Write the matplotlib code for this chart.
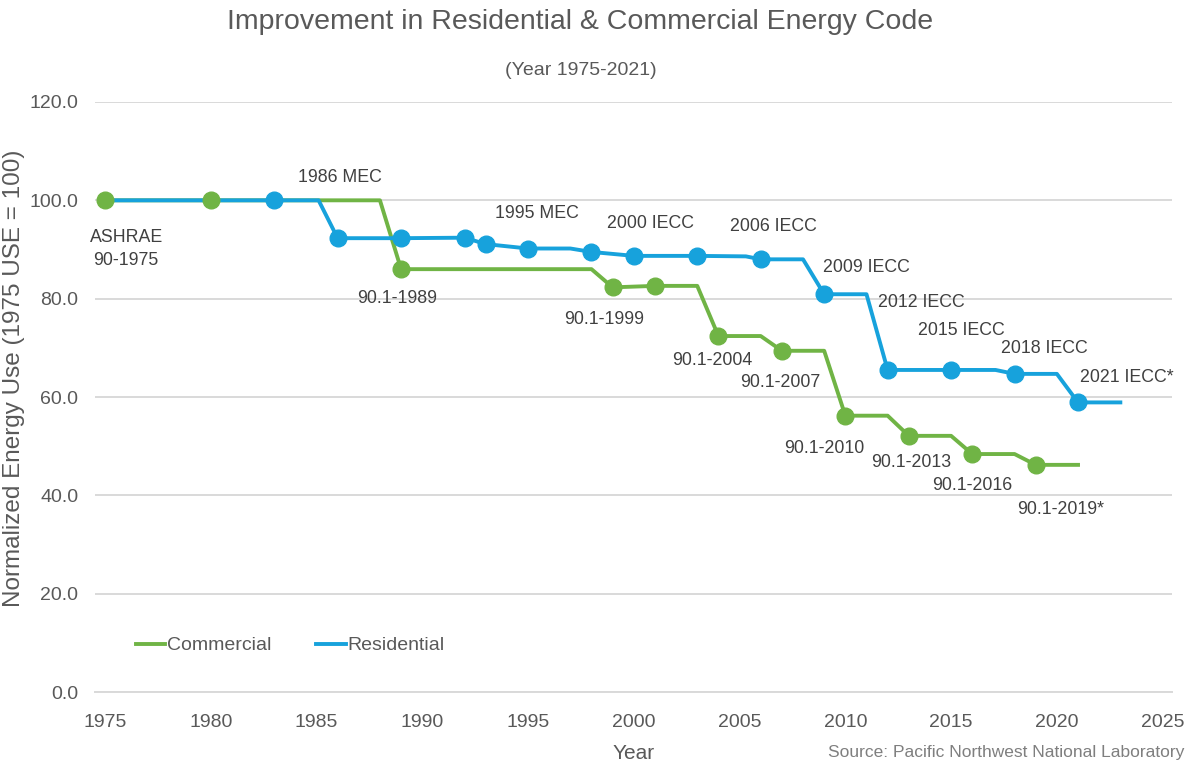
import matplotlib.pyplot as plt
import numpy as np

plt.rcParams['font.family'] = ['Liberation Sans', 'DejaVu Sans']

# line vertices (year, normalized energy use)
res_years = [1975, 1983, 1985.1, 1986, 1989, 1992, 1993, 1995, 1997, 1998, 2000, 2003,
             2005.3, 2006, 2008, 2009, 2011, 2012, 2015, 2017.1, 2018, 2020, 2021, 2023]
res_values = [100, 100, 100, 92.3, 92.3, 92.4, 91.1, 90.2, 90.2, 89.5, 88.7, 88.7,
              88.6, 88.0, 88.0, 80.9, 80.9, 65.5, 65.5, 65.5, 64.7, 64.7, 58.9, 58.9]
res_marker_years = [1983, 1986, 1989, 1992, 1993, 1995, 1998, 2000, 2003, 2006, 2009,
                    2012, 2015, 2018, 2021]

com_years = [1975, 1980, 1988, 1989, 1998, 1999, 2001, 2003, 2004, 2006, 2007, 2009,
             2010, 2012, 2013, 2015, 2016, 2018, 2019, 2021]
com_values = [100, 100, 100, 86.0, 86.0, 82.3, 82.6, 82.6, 72.4, 72.4, 69.4, 69.4,
              56.2, 56.2, 52.1, 52.1, 48.4, 48.4, 46.2, 46.2]
com_marker_years = [1975, 1980, 1989, 1999, 2001, 2004, 2007, 2010, 2013, 2016, 2019]

# code labels and where they sit (data coords)
code_labels = ['ASHRAE\n90-1975', '1986 MEC', '90.1-1989', '1995 MEC', '90.1-1999',
               '2000 IECC', '2006 IECC', '90.1-2004', '90.1-2007', '2009 IECC',
               '2012 IECC', '2015 IECC', '2018 IECC', '2021 IECC*', '90.1-2010',
               '90.1-2013', '90.1-2016', '90.1-2019*']
label_x = [1976.0, 1986.1, 1988.8, 1995.4, 1998.6, 2000.8, 2006.6, 2003.7, 2006.9, 2011.0,
           2013.6, 2015.5, 2019.4, 2023.3, 2009.0, 2013.1, 2016.0, 2020.2]
label_y = [90.1, 104.7, 80.1, 97.4, 75.8, 95.3, 94.7, 67.5, 63.0, 86.4,
           79.3, 73.6, 69.9, 63.9, 49.6, 46.6, 42.1, 37.1]

green = '#70B445'
blue = '#17A2DC'
grey = '#595959'

fig = plt.figure(figsize=(11.92, 7.72), dpi=100)
ax = fig.add_axes([0.0797, 0.1036, 0.9033, 0.7643])

ax.plot(com_years, com_values, color=green, lw=2.8, label='Commercial', zorder=3)
ax.plot(res_years, res_values, color=blue, lw=2.8, label='Residential', zorder=4)
ax.plot(res_marker_years, np.interp(res_marker_years, res_years, res_values),
        'o', color=blue, ms=12, zorder=5)
ax.plot(com_marker_years, np.interp(com_marker_years, com_years, com_values),
        'o', color=green, ms=12, zorder=6)

for txt, x, y in zip(code_labels, label_x, label_y):
    ax.text(x, y, txt, ha='center', va='center', fontsize=12.8, color='#404040',
            linespacing=1.5, zorder=7)

ax.set_xlim(1974.53, 2025.43)
ax.set_ylim(0, 120)
ax.set_xticks(range(1975, 2026, 5))
ax.set_yticks(range(0, 121, 20))
ax.set_yticklabels([f'{v:.1f}' for v in range(0, 121, 20)])
ax.tick_params(length=0, labelsize=14, colors=grey, pad=12)
ax.tick_params(axis='x', pad=16)
ax.grid(axis='y', color='#D9D9D9', lw=1.4)
ax.set_axisbelow(True)
for s in ['top', 'right', 'left']:
    ax.spines[s].set_visible(False)
ax.spines['bottom'].set_color('#D9D9D9')
ax.spines['bottom'].set_linewidth(1.4)

ax.set_ylabel('Normalized Energy Use (1975 USE = 100)', fontsize=17.5, color=grey)
ax.yaxis.set_label_coords(-0.065, 0.532)
ax.set_xlabel('Year', fontsize=15, color=grey, labelpad=9)

fig.text(0.487, 0.972, 'Improvement in Residential & Commercial Energy Code',
         ha='center', va='center', fontsize=20.5, color=grey)
fig.text(0.487, 0.909, '(Year 1975-2021)', ha='center', va='center', fontsize=14, color=grey)
fig.text(0.994, 0.025, 'Source: Pacific Northwest National Laboratory',
         ha='right', va='center', fontsize=12.5, color='#7F7F7F')

ax.legend(loc='lower left', bbox_to_anchor=(0.022, 0.034), ncol=2, frameon=False,
          fontsize=14, handlelength=1.5, handletextpad=0.1, columnspacing=2.3,
          labelcolor=grey)

fig.savefig('out.png', dpi=100)
